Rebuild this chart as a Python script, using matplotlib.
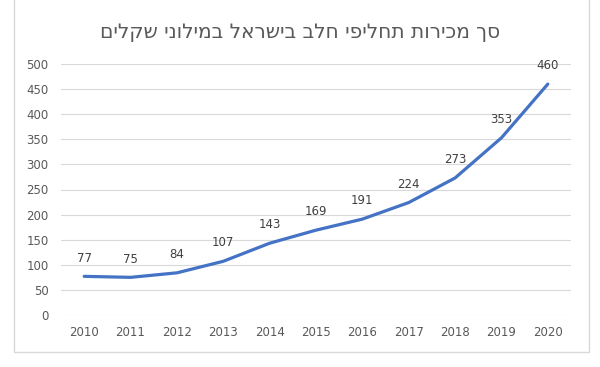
import matplotlib.pyplot as plt
from matplotlib.patches import Rectangle

years = ["2010", "2011", "2012", "2013", "2014", "2015", "2016", "2017", "2018", "2019", "2020"]
sales = [77, 75, 84, 107, 143, 169, 191, 224, 273, 353, 460]
title = "סך מכירות תחליפי חלב בישראל במילוני שקלים"

plt.rcParams['font.family'] = ['DejaVu Sans']

fig = plt.figure(figsize=(6.0, 3.67), dpi=100)
ax = fig.add_axes([61 / 600, 1 - 315 / 367, 510 / 600, 251 / 367])

# chart border like Excel
fig.patches.append(Rectangle((14 / 600, 1 - 352 / 367), 575 / 600, 352 / 367 + 0.05,
                             transform=fig.transFigure, fill=False,
                             edgecolor="#d9d9d9", linewidth=1.0))

x = list(range(len(years)))
ax.plot(x, sales, color="#4472c4", linewidth=2.3, solid_capstyle="round")
for xi, v in zip(x, sales):
    ax.annotate(str(v), (xi, v), xytext=(0, 8.5), textcoords="offset points",
                ha="center", va="bottom", fontsize=8.5, color="#404040")

ax.set_xlim(-0.5, len(years) - 0.5)
ax.set_ylim(0, 500)
ax.set_yticks(range(0, 501, 50))
ax.set_xticks(x)
ax.set_xticklabels(years)
ax.grid(axis="y", color="#d9d9d9", linewidth=0.8)
ax.set_axisbelow(True)
for s in ax.spines.values():
    s.set_visible(False)
ax.tick_params(length=0, labelsize=8.5, labelcolor="#595959")
ax.tick_params(axis="y", pad=9)
ax.tick_params(axis="x", pad=8)

# matplotlib has no bidi support, so flip the Hebrew for right-to-left display
fig.text(0.5, 1 - 33 / 367, title[::-1], ha="center", va="center",
         fontsize=14.5, color="#595959")

fig.savefig("out.png", dpi=100)
